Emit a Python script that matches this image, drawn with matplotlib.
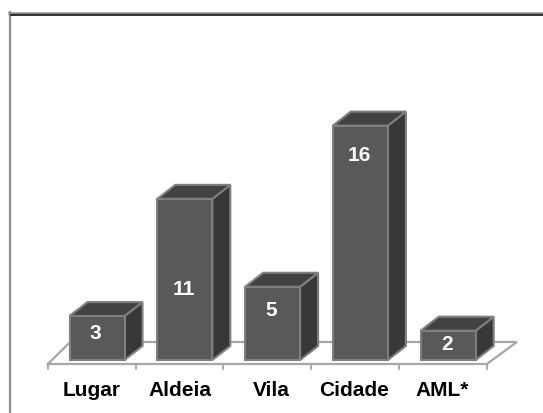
import matplotlib
matplotlib.use("Agg")
import matplotlib.pyplot as plt
from matplotlib.lines import Line2D
from matplotlib.patches import Polygon

plt.rcParams['font.family'] = ['Liberation Sans', 'DejaVu Sans']

categories = ["Lugar", "Aldeia", "Vila", "Cidade", "AML*"]
values = [3, 11, 5, 16, 2]

W, H = 543, 414
px_unit = 87.8     # pixels per category
px_value = 14.65   # pixels per unit of value
x0_px = 97         # first bar centre
y0_px = 361        # bar base

fig = plt.figure(figsize=(W / 100, H / 100), dpi=100)
ax = fig.add_axes([0, 0, 1, 1])
ax.set_xlim(-x0_px / px_unit, (W - x0_px) / px_unit)
ax.set_ylim(-(H - y0_px) / px_value, y0_px / px_value)
ax.axis("off")

front, side, top, edge, floor = "#595959", "#383838", "#424242", "#7f7f7f", "#a6a6a6"
dx = 18 / px_unit    # depth of the 3d effect
dy = 14 / px_value
width = 55 / px_unit
base = -4 / px_value # front edge of floor
floor_dx = 30 / px_unit
floor_dy = 22 / px_value

# Floor and ticks
left, right = -0.56, len(categories) - 0.56
ax.plot([left, left + floor_dx * 0.75, right + floor_dx, right, left],
        [base, base + floor_dy, base + floor_dy, base, base],
        color=floor, lw=1.6, zorder=1, solid_joinstyle="miter")
for i in range(len(categories) + 1):
    ax.plot([left + i, left + i], [base, base - 5 / px_value], color=floor, lw=1.3, zorder=1)

# Bars
xs = list(range(len(categories)))
ax.bar(xs, values, width=width, color=front, edgecolor=edge, linewidth=1.5, zorder=3)
for x, v in zip(xs, values):
    l, r = x - width / 2, x + width / 2
    ax.add_patch(Polygon([(r, 0), (r + dx, dy), (r + dx, v + dy), (r, v)],
                         facecolor=side, edgecolor=edge, lw=1.5, zorder=2))
    ax.add_patch(Polygon([(l, v), (l + dx, v + dy), (r + dx, v + dy), (r, v)],
                         facecolor=top, edgecolor=edge, lw=1.5, zorder=2))

# Value labels sit at varying heights inside the bars
label_heights = [1.85, 4.87, 3.43, 14.03, 1.1]
for x, v, h in zip(xs, values, label_heights):
    ax.text(x - 0.015, h, str(v), color="white", fontsize=15, fontweight="bold",
            ha="center", va="center", zorder=4)

# Category labels are not quite centred under the bars
label_shift = [-5, -5, -1, -6, -6]
for x, c, s in zip(xs, categories, label_shift):
    ax.text(x + s / px_unit, -29.5 / px_value, c, color="black", fontsize=15, fontweight="bold",
            ha="center", va="center", zorder=4)

# Outer frame
fig.add_artist(Line2D([9.7 / W, 9.7 / W], [0, 1 - 13 / H], color="#8c8c8c", lw=1.6))
fig.add_artist(Line2D([9 / W, 1], [1 - 14 / H, 1 - 14 / H], color="#8c8c8c", lw=1.8))
fig.add_artist(Line2D([11 / W, 1], [1 - 15.5 / H, 1 - 15.5 / H], color="black", lw=1.1))

fig.savefig("out.png", dpi=100)
